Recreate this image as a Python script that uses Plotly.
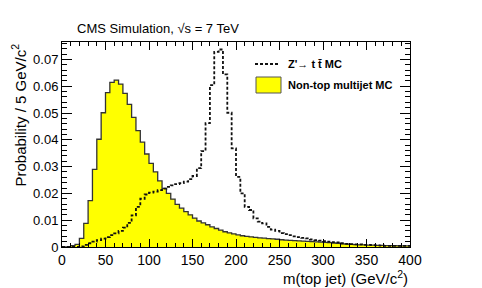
import plotly.graph_objects as go

# bin edges: 0..400 GeV in 5 GeV bins (80 bins)
bin_width = 5
bin_lo = list(range(0, 400, bin_width))

multijet = [
    0.0, 0.0, 0.0005, 0.0010, 0.0032, 0.0088, 0.0173, 0.0290, 0.0402, 0.0501,
    0.0576, 0.0614, 0.0623, 0.0608, 0.0573, 0.0532, 0.0484, 0.0434, 0.0391, 0.0347,
    0.0312, 0.0280, 0.0247, 0.0219, 0.0200, 0.0179, 0.0159, 0.0145, 0.0132, 0.0120,
    0.0108, 0.0097, 0.0090, 0.0083, 0.0075, 0.0069, 0.0063, 0.0057, 0.0053, 0.0049,
    0.0045, 0.0042, 0.0040, 0.0038, 0.0036, 0.0034, 0.0033, 0.0031, 0.0030, 0.0029,
    0.0027, 0.0026, 0.0025, 0.0024, 0.0023, 0.0022, 0.0021, 0.0020, 0.0019, 0.0018,
    0.0017, 0.0016, 0.0015, 0.0014, 0.0012, 0.0011, 0.0010, 0.0009, 0.0008, 0.0008,
    0.0007, 0.0007, 0.0006, 0.0006, 0.0005, 0.0005, 0.0005, 0.0004, 0.0004, 0.0004,
]

zprime = [
    0.0, 0.0, 0.0, 0.0, 0.0002, 0.0008, 0.0014, 0.0020, 0.0026, 0.0031,
    0.0037, 0.0044, 0.0051, 0.0060, 0.0072, 0.0090, 0.0118, 0.0150, 0.0180, 0.0196,
    0.0203, 0.0207, 0.0212, 0.0218, 0.0224, 0.0230, 0.0235, 0.0238, 0.0244, 0.0253,
    0.0265, 0.0294, 0.0358, 0.0462, 0.0604, 0.0728, 0.0737, 0.0644, 0.0501, 0.0368,
    0.0262, 0.0200, 0.0150, 0.0138, 0.0107, 0.0095, 0.0088, 0.0075, 0.0065, 0.0060,
    0.0052, 0.0048, 0.0044, 0.0040, 0.0037, 0.0034, 0.0032, 0.0028, 0.0026, 0.0024,
    0.0022, 0.0020, 0.0018, 0.0017, 0.0014, 0.0012, 0.0011, 0.0010, 0.0010, 0.0008,
    0.0008, 0.0007, 0.0006, 0.0005, 0.0004, 0.0004, 0.0004, 0.0004, 0.0004, 0.0004,
]

label_multijet = "Non-top multijet MC"
label_zprime = "Z'\u2192 t t\u0304 MC"
title_text = "CMS Simulation, \u221as = 7 TeV"
x_title = "m(top jet) (GeV/c<sup>2</sup>)"
y_title = "Probability / 5 GeV/c<sup>2</sup>"


def step_xy(vals):
    xs = bin_lo + [bin_lo[-1] + bin_width]
    ys = list(vals) + [vals[-1]]
    return xs, ys


FONT = "Liberation Sans, Arial, sans-serif"

fig = go.Figure()
xm, ym = step_xy(multijet)
fig.add_trace(go.Scatter(
    x=xm, y=ym, mode="lines", line_shape="hv",
    line=dict(color="#333333", width=1.3),
    fill="tozeroy", fillcolor="#ffff00", showlegend=False, hoverinfo="skip",
))
xz, yz = step_xy(zprime)
fig.add_trace(go.Scatter(
    x=xz, y=yz, mode="lines", line_shape="hv",
    line=dict(color="#111111", width=1.8, dash="3px,2px"),
    showlegend=False, hoverinfo="skip",
))

L, R, T, B = 62, 72, 42, 41
W, H = 482, 288
pw, ph = W - L - R, H - T - B

def px_x(px):
    return (px - L) / pw

def px_y(py):
    return (H - B - py) / ph

fig.update_layout(
    width=W, height=H,
    margin=dict(l=L, r=R, t=T, b=B),
    paper_bgcolor="white", plot_bgcolor="white",
    font=dict(family=FONT, color="black"),
    xaxis=dict(
        range=[0, 400], tickvals=[0, 50, 100, 150, 200, 250, 300, 350, 400],
        ticks="inside", ticklen=8, tickwidth=1, tickcolor="black",
        minor=dict(ticks="inside", ticklen=4, dtick=10, tickcolor="black", showgrid=False),
        showline=True, linecolor="black", linewidth=1, mirror="allticks",
        showgrid=False, zeroline=False, tickfont=dict(size=14, family=FONT),
    ),
    yaxis=dict(
        range=[0, 0.0765], tickvals=[0, 0.01, 0.02, 0.03, 0.04, 0.05, 0.06, 0.07],
        ticktext=["0", "0.01", "0.02", "0.03", "0.04", "0.05", "0.06", "0.07"],
        ticks="inside", ticklen=10, tickwidth=1, tickcolor="black",
        minor=dict(ticks="inside", ticklen=5, dtick=0.002, tickcolor="black", showgrid=False),
        showline=True, linecolor="black", linewidth=1, mirror="allticks",
        showgrid=False, zeroline=False, tickfont=dict(size=13, family=FONT),
    ),
)

annotations = [
    dict(text=title_text, x=px_x(75), y=px_y(29), xref="paper", yref="paper",
         xanchor="left", yanchor="middle", showarrow=False, font=dict(size=13)),
    dict(text=x_title, x=1.0, y=px_y(277), xref="paper", yref="paper",
         xanchor="right", yanchor="middle", showarrow=False, font=dict(size=15)),
    dict(text=y_title, x=px_x(19), y=1.0, xref="paper", yref="paper",
         xanchor="center", yanchor="top", textangle=-90, showarrow=False, font=dict(size=15)),
    dict(text="<b>" + label_zprime + "</b>", x=px_x(286), y=px_y(64), xref="paper", yref="paper",
         xanchor="left", yanchor="middle", showarrow=False, font=dict(size=11)),
    dict(text="<b>" + label_multijet + "</b>", x=px_x(286), y=px_y(85), xref="paper", yref="paper",
         xanchor="left", yanchor="middle", showarrow=False, font=dict(size=11)),
]
fig.update_layout(annotations=annotations)

shapes = [
    dict(type="line", xref="paper", yref="paper", x0=px_x(255), x1=px_x(280), y0=px_y(64), y1=px_y(64),
         line=dict(color="#111111", width=1.8, dash="3px,2px")),
    dict(type="rect", xref="paper", yref="paper", x0=px_x(256), x1=px_x(281), y0=px_y(77), y1=px_y(93),
         fillcolor="#ffff00", line=dict(color="#555555", width=1)),
]
fig.update_layout(shapes=shapes)

fig.write_html("out.html", config={"displayModeBar": False},
               post_script="document.body.style.margin='0';")
